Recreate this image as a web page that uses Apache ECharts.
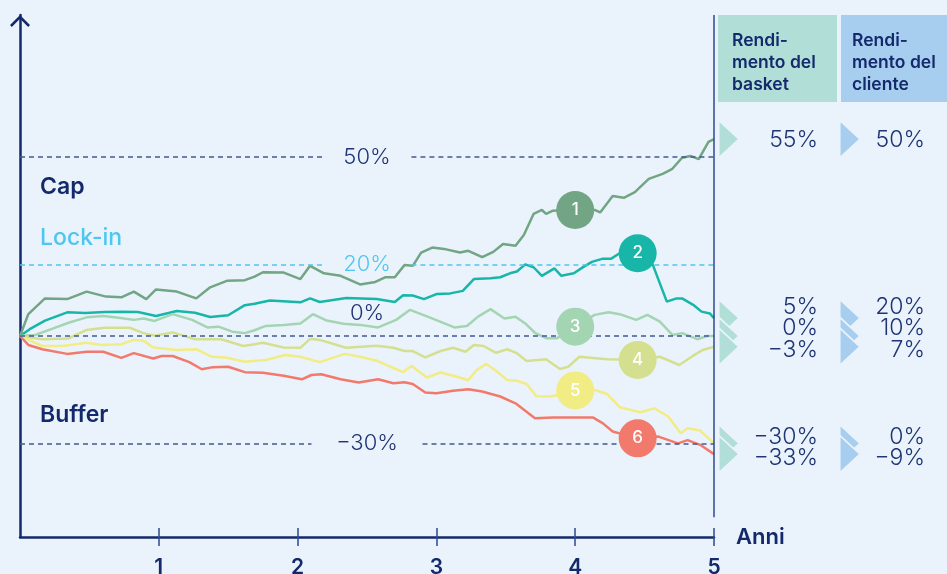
<!DOCTYPE html>
<html>
<head>
<meta charset="utf-8">
<script src="https://cdn.jsdelivr.net/npm/echarts@6/dist/echarts.min.js"></script>
<style>
    html, body { margin: 0; padding: 0; background: #EAF3FB; }
    #chart { width: 947px; height: 574px; }
</style>
</head>
<body>
<div id="chart"></div>
<script>
// rendimento del basket nel tempo (anni, %)
const line1 = [[0,0],[0.06,6.1],[0.18,10.5],[0.34,10.3],[0.48,12.4],[0.62,11.0],[0.73,10.8],[0.82,12.4],[0.91,10.3],[0.98,13.0],[1.13,12.4],[1.27,10.5],[1.37,13.6],[1.49,15.4],[1.62,15.6],[1.69,16.6],[1.75,17.8],[1.90,17.7],[2.02,15.9],[2.09,19.6],[2.19,17.5],[2.31,16.8],[2.45,14.4],[2.56,15.1],[2.63,16.4],[2.70,16.4],[2.77,19.8],[2.83,19.6],[2.89,23.3],[2.97,24.7],[3.07,24.2],[3.17,23.3],[3.23,23.8],[3.33,22.0],[3.41,23.5],[3.48,25.7],[3.57,25.2],[3.63,28.2],[3.70,34.1],[3.76,35.2],[3.79,34.1],[3.84,35.0],[4.0,35.3],[4.14,35.2],[4.18,34.5],[4.27,39.1],[4.35,38.6],[4.43,40.2],[4.53,43.9],[4.63,45.3],[4.70,46.7],[4.77,49.8],[4.83,50.3],[4.89,49.4],[4.96,54.2],[5,55]];
const line2 = [[0,0],[0.07,1.9],[0.18,4.3],[0.34,6.6],[0.47,6.4],[0.61,6.7],[0.74,6.8],[0.85,6.7],[0.98,5.6],[1.13,7.0],[1.26,6.5],[1.37,5.3],[1.50,5.8],[1.62,8.6],[1.69,9.0],[1.80,9.9],[2.02,9.4],[2.09,10.5],[2.16,9.5],[2.35,10.6],[2.57,10.3],[2.70,9.5],[2.76,11.4],[2.83,11.3],[2.91,10.3],[3.00,11.7],[3.10,11.9],[3.19,12.6],[3.27,15.9],[3.39,16.1],[3.46,16.4],[3.53,17.5],[3.58,18.0],[3.64,20.0],[3.70,19.2],[3.76,16.8],[3.85,18.9],[3.90,16.8],[3.99,17.5],[4.06,19.3],[4.12,20.7],[4.20,21.6],[4.26,21.6],[4.32,23.1],[4.45,23.4],[4.56,19.8],[4.66,9.6],[4.73,10.5],[4.77,10.5],[4.85,8.7],[4.91,6.8],[4.97,6.3],[5,5]];
const line3 = [[0,0],[0.11,0.3],[0.23,2.0],[0.35,3.7],[0.48,5.2],[0.60,5.6],[0.71,5.1],[0.82,4.5],[0.89,4.9],[0.97,4.2],[1.10,6.1],[1.24,4.5],[1.35,2.4],[1.43,2.6],[1.53,1.2],[1.62,0.8],[1.69,1.6],[1.77,2.8],[1.90,3.1],[2.02,3.5],[2.11,6.1],[2.21,4.3],[2.33,3.4],[2.45,3.1],[2.58,2.4],[2.71,4.5],[2.81,7.3],[2.95,5.2],[3.13,2.4],[3.22,2.8],[3.30,5.4],[3.39,7.5],[3.49,4.9],[3.57,5.4],[3.64,3.5],[3.71,0.9],[3.79,-0.6],[3.87,-0.6],[4.0,2.6],[4.14,5.9],[4.24,6.6],[4.32,6.1],[4.44,4.5],[4.52,5.9],[4.61,4.0],[4.70,0.3],[4.77,0.8],[4.88,-0.9],[4.95,0],[5,0]];
const line4 = [[0,0],[0.16,-0.9],[0.35,-0.7],[0.48,1.7],[0.61,2.3],[0.79,2.3],[0.89,0.8],[0.97,0.1],[1.10,1.0],[1.26,-0.9],[1.45,-0.9],[1.61,-2.8],[1.69,-2.3],[1.75,-1.9],[1.90,-3.2],[2.02,-3.3],[2.09,-0.8],[2.16,-1.1],[2.35,-3.3],[2.57,-2.7],[2.69,-3.3],[2.77,-4.2],[2.83,-4.2],[2.92,-6.0],[3.03,-4.2],[3.12,-3.3],[3.21,-4.4],[3.27,-2.5],[3.34,-2.8],[3.43,-4.7],[3.51,-3.7],[3.58,-4.8],[3.65,-7.0],[3.79,-6.5],[3.89,-9.2],[3.95,-8.6],[4.03,-5.8],[4.23,-6.5],[4.45,-6.7],[4.61,-5.8],[4.75,-8.1],[4.85,-5.5],[4.92,-3.9],[5,-3]];
const line5 = [[0,0],[0.16,-2.8],[0.32,-2.7],[0.48,-1.9],[0.59,-2.5],[0.73,-2.3],[0.82,-1.1],[0.89,-1.3],[0.96,-3.2],[1.13,-3.9],[1.27,-3.7],[1.38,-5.8],[1.48,-6.0],[1.62,-7.2],[1.77,-6.7],[1.91,-5.3],[2.02,-5.8],[2.16,-7.3],[2.34,-5.0],[2.45,-5.8],[2.57,-6.9],[2.67,-8.6],[2.76,-10.1],[2.82,-8.3],[2.93,-11.6],[3.03,-10.2],[3.12,-11.1],[3.23,-12.3],[3.29,-9.5],[3.36,-7.8],[3.43,-9.7],[3.51,-12.3],[3.58,-12.5],[3.65,-13.4],[3.72,-16.8],[3.82,-16.9],[4.0,-15.5],[4.14,-15.1],[4.23,-16.2],[4.32,-19.9],[4.47,-21.3],[4.57,-20.2],[4.67,-22.5],[4.76,-27.2],[4.81,-25.8],[4.90,-26.4],[5,-30]];
const line6 = [[0,0],[0.06,-2.5],[0.16,-3.7],[0.34,-5.0],[0.48,-4.4],[0.60,-4.4],[0.73,-6.1],[0.82,-4.8],[0.96,-6.3],[1.02,-5.6],[1.10,-5.6],[1.22,-7.3],[1.31,-9.3],[1.39,-8.7],[1.50,-8.6],[1.62,-10.1],[1.75,-10.3],[1.90,-11.1],[2.03,-12.1],[2.10,-10.9],[2.17,-10.7],[2.31,-12.1],[2.44,-13.0],[2.58,-12.1],[2.69,-13.2],[2.77,-12.9],[2.83,-13.4],[2.92,-15.8],[3.00,-16.0],[3.12,-15.3],[3.23,-14.9],[3.33,-15.5],[3.46,-16.9],[3.57,-18.8],[3.71,-23.0],[3.84,-22.8],[4.13,-22.8],[4.20,-24.4],[4.27,-26.7],[4.45,-28.6],[4.60,-28.1],[4.74,-30.0],[4.81,-29.1],[4.90,-30.4],[5,-33]];

const lineNames = ['1', '2', '3', '4', '5', '6'];
// posizione dei cerchi numerati (anni, %)
const markerX = [4.0, 4.45, 4.0, 4.45, 4.0, 4.45];
const markerY = [35.2, 23.1, 2.6, -6.7, -15.2, -28.6];

// tabella a destra
const basketReturns = [55, 5, 0, -3, -30, -33];
const clientReturns = [50, 20, 10, 7, 0, -9];

// livelli di riferimento
const refLevels = [50, 20, 0, -30];
const refLabels = ['50%', '20%', '0%', '\u221230%'];
const xTicks = [1, 2, 3, 4, 5];

const lines = [line1, line2, line3, line4, line5, line6];
const colors = ['#72A584', '#17B6A9', '#A4D5B3', '#D4E08F', '#F2EC84', '#F27A6C'];
const navy = '#13296B';
const dashNavy = '#425A94';
const textNavy = '#1E3474';
const lightBlue = '#4DC6F0';
const bg = '#EAF3FB';
const textRowY = [140, 307, 328, 350, 437, 458];
// interruzione delle linee tratteggiate attorno all'etichetta (anni)
const gapHalf = [0.32, 0.32, 0, 0.4];

function fmtPct(v) {
    return (v < 0 ? '\u2212' + Math.abs(v) : v) + '%';
}

const chart = echarts.init(document.getElementById('chart'));

const series = lines.map(function (d, i) {
    return {
        name: lineNames[i],
        type: 'line',
        data: d,
        showSymbol: false,
        z: 3,
        lineStyle: { width: 2.5, color: colors[i] },
        markPoint: {
            symbol: 'circle',
            symbolSize: 38,
            silent: true,
            z: 6,
            itemStyle: { color: colors[i] },
            label: { color: '#fff', fontSize: 17, fontWeight: 500, fontFamily: 'Inter', formatter: '{b}' },
            data: [{ name: lineNames[i], coord: [markerX[i], markerY[i]] }]
        }
    };
});

// linee di riferimento + asse verticale a 5 anni
const markLineData = [];
refLevels.forEach(function (v, i) {
    const st = { color: i === 1 ? lightBlue : dashNavy, type: [5, 4], width: 1.5 };
    if (gapHalf[i] === 0) {
        markLineData.push([{ coord: [0, v], lineStyle: st }, { coord: [5, v], lineStyle: st }]);
    } else {
        markLineData.push([{ coord: [0, v], lineStyle: st }, { coord: [2.5 - gapHalf[i], v], lineStyle: st }]);
        markLineData.push([{ coord: [2.5 + gapHalf[i], v], lineStyle: st }, { coord: [5, v], lineStyle: st }]);
    }
});
const axisStyle = { color: '#2E4A8E', type: 'solid', width: 1.5 };
markLineData.push([{ coord: [5, -50.6], lineStyle: axisStyle }, { coord: [5, 89.66], lineStyle: axisStyle }]);
series[0].markLine = {
    silent: true,
    symbol: ['none', 'none'],
    label: { show: false },
    data: markLineData
};

// etichette dei livelli
series.push({
    type: 'scatter',
    symbolSize: 0,
    silent: true,
    z: 8,
    itemStyle: { opacity: 1 },
    data: refLevels.map(function (v, i) {
        return {
            value: [2.5, v],
            label: {
                formatter: refLabels[i],
                color: i === 1 ? lightBlue : textNavy,
                offset: v === 0 ? [0, -23] : [0, 0]
            }
        };
    }),
    label: {
        show: true,
        position: 'inside',
        fontSize: 22,
        fontFamily: 'Inter',
        fontWeight: 300
    }
});

// triangoli e valori della tabella
function tableSeries(values, fill, offsetX, textX) {
    return {
        type: 'scatter',
        silent: true,
        clip: false,
        z: 7,
        symbol: 'path://M0,0 L20,18.5 L0,37 Z',
        symbolSize: [20, 37],
        symbolOffset: [offsetX, 0],
        itemStyle: { color: fill, borderColor: bg, borderWidth: 1.5, opacity: 1 },
        data: basketReturns.map(function (v) { return [5, v]; }),
        label: {
            show: true,
            fontSize: 23,
            fontFamily: 'Inter',
            fontWeight: 300,
            color: textNavy,
            formatter: function (p) { return fmtPct(values[p.dataIndex]); }
        },
        labelLayout: function (p) {
            return { x: textX, y: textRowY[p.dataIndex], align: 'right', verticalAlign: 'middle' };
        }
    };
}
series.push(tableSeries(basketReturns, '#B1DFD7', 15, 818));
series.push(tableSeries(clientReturns, '#A7CEEE', 136, 925));

const headerText = function (x, lines3) {
    return {
        type: 'text',
        left: x,
        top: 30,
        style: {
            text: lines3.join('\n'),
            fill: navy,
            font: '600 17.5px Inter',
            lineHeight: 22
        }
    };
};

chart.setOption({
    backgroundColor: bg,
    animation: false,
    grid: { left: 20, right: 233, top: 15, bottom: 37, outerBoundsMode: 'none', containLabel: false },
    xAxis: [{
        type: 'value',
        min: 0,
        max: 5,
        interval: 1,
        name: 'Anni',
        nameLocation: 'end',
        nameGap: 22,
        nameTextStyle: { color: navy, fontSize: 22, fontWeight: 600, fontFamily: 'Inter' },
        splitLine: { show: false },
        axisLine: { onZero: false, lineStyle: { color: navy, width: 2.5 } },
        axisTick: { customValues: xTicks, length: 9, lineStyle: { color: '#2E4A8E', width: 1.5 } },
        axisLabel: { customValues: xTicks, color: navy, fontSize: 21, fontWeight: 600, fontFamily: 'Inter', margin: 20 }
    }, {
        type: 'value',
        min: 0,
        max: 5,
        interval: 1,
        position: 'bottom',
        splitLine: { show: false },
        axisLine: { show: false, onZero: false },
        axisTick: { inside: true, customValues: xTicks, length: 9, lineStyle: { color: '#2E4A8E', width: 1.5 } },
        axisLabel: { show: false }
    }],
    yAxis: {
        type: 'value',
        min: -56.15,
        max: 89.66,
        splitLine: { show: false },
        axisTick: { show: false },
        axisLabel: { show: false },
        axisLine: {
            show: true,
            lineStyle: { color: navy, width: 2.5 },
            symbol: ['none', 'path://M0,10 L10,0 L20,10 L18.2,11.8 L10,3.6 L1.8,11.8 Z'],
            symbolSize: [20, 12],
            symbolOffset: [0, -6]
        }
    },
    graphic: [
        { type: 'rect', shape: { x: 718, y: 15, width: 119, height: 87 }, style: { fill: '#B1DFD7' } },
        { type: 'rect', shape: { x: 841, y: 15, width: 106, height: 87 }, style: { fill: '#A7CEEE' } },
        headerText(732, ['Rendi-', 'mento del', 'basket']),
        headerText(852, ['Rendi-', 'mento del', 'cliente']),
        { type: 'text', left: 40, top: 176, style: { text: 'Cap', fill: navy, font: '600 23px Inter' } },
        { type: 'text', left: 40, top: 227, style: { text: 'Lock-in', fill: lightBlue, font: '500 23px Inter' } },
        { type: 'text', left: 40, top: 404, style: { text: 'Buffer', fill: navy, font: '600 23px Inter' } }
    ],
    series: series
});
</script>
</body>
</html>
